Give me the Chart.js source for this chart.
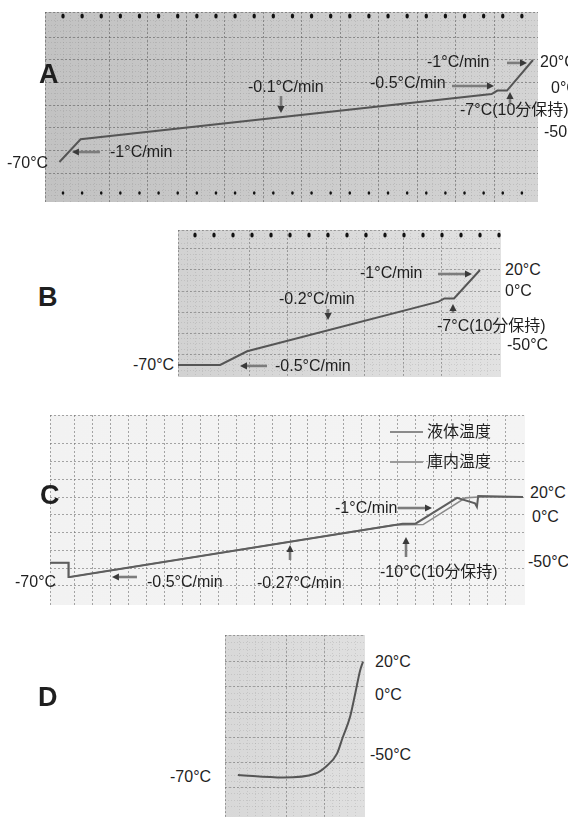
<!DOCTYPE html>
<html><head><meta charset="utf-8">
<script src="https://cdn.jsdelivr.net/npm/chart.js@4.4.0/dist/chart.umd.min.js"></script>
<style>
html,body{margin:0;padding:0;background:#fff;}
#page{position:relative;width:568px;height:820px;overflow:hidden;font-family:"Liberation Sans","Noto Sans CJK JP",Arial,sans-serif;color:#1f1f1f;}
#page canvas{position:absolute;}
.lbl{position:absolute;white-space:nowrap;font-size:16px;line-height:16px;}
.big{font-weight:bold;}
.leg{position:absolute;height:2px;background:#8a8a8a;}
</style></head>
<body><div id="page"></div>
<script>
// ---------- data (time in minutes, plotted right-to-left; temperature in °C) ----------
const A_time = [0, 27, 37, 43, 470, 492];
const A_temp = [20, -7, -7, -10, -50, -70];
const B_time = [0, 27, 37, 43, 242, 270, 314];
const B_temp = [20, -7, -7, -10, -57, -70, -70];
const C_liquidTime = [0, 35, 36, 37.5, 51.5, 84, 94, 354, 355, 355, 370];
const C_liquidTemp = [20, 21, 9, 13, 19, -10, -10, -70, -70, -54, -54];
const C_chamberTime = [0, 35, 45, 78, 100, 354, 355, 355, 370];
const C_chamberTemp = [20, 20, 19, -11, -11.4, -70, -70, -54, -54];
const D_time = [0, 3, 8, 13.5, 21, 27, 38, 50, 83, 130];
const D_temp = [20, 13, -5, -24, -40, -53, -63, -69, -72, -70];
const tempTickLabels = ['20°C', '0°C', '-50°C', '-70°C'];
const legendLabels = ['液体温度', '庫内温度'];
const panelLetters = ['A', 'B', 'C', 'D'];

const page = document.getElementById('page');
function label(text, x, cy, cls, size) {
  const d = document.createElement('div');
  d.className = 'lbl' + (cls ? ' ' + cls : '');
  const s = size || 16;
  d.style.fontSize = s + 'px';
  d.style.lineHeight = s + 'px';
  d.style.left = x + 'px';
  d.style.top = (cy - s * 0.49) + 'px';
  d.textContent = text;
  page.appendChild(d);
}

function drawArrow(ctx, x1, y1, x2, y2) {
  const ang = Math.atan2(y2 - y1, x2 - x1), hl = 7, hw = 3.6;
  const bx = x2 - Math.cos(ang) * hl, by = y2 - Math.sin(ang) * hl;
  ctx.save();
  ctx.strokeStyle = '#7c7c7c'; ctx.lineWidth = 2.6;
  ctx.beginPath(); ctx.moveTo(x1, y1); ctx.lineTo(bx, by); ctx.stroke();
  ctx.fillStyle = '#3a3a3a';
  ctx.beginPath(); ctx.moveTo(x2, y2);
  ctx.lineTo(bx + Math.sin(ang) * hw, by - Math.cos(ang) * hw);
  ctx.lineTo(bx - Math.sin(ang) * hw, by + Math.cos(ang) * hw);
  ctx.closePath(); ctx.fill();
  ctx.restore();
}

const recorderPlugin = {
  id: 'recorder',
  beforeDraw(chart, args, opts) {
    const a = chart.chartArea, ctx = chart.ctx;
    ctx.save();
    const g = ctx.createLinearGradient(a.left, 0, a.right, 0);
    g.addColorStop(0, opts.bg[0]); g.addColorStop(1, opts.bg[1]);
    ctx.fillStyle = g;
    ctx.fillRect(a.left, a.top, a.right - a.left, a.bottom - a.top);
    ctx.restore();
  },
  afterDatasetsDraw(chart, args, opts) {
    const ctx = chart.ctx, a = chart.chartArea;
    (opts.dots || []).forEach(r => {
      ctx.save(); ctx.fillStyle = '#111';
      for (let i = 0; i < r.n; i++) {
        ctx.beginPath();
        ctx.ellipse(a.left + r.x0 + i * r.step, a.top + r.y, r.rx, r.ry, 0, 0, Math.PI * 2);
        ctx.fill();
      }
      ctx.restore();
    });
    const xs = chart.scales.x, ys = chart.scales.y;
    (opts.arrows || []).forEach(ar => {
      const tx = xs.getPixelForValue(ar.t), ty = ys.getPixelForValue(ar.T);
      drawArrow(ctx, tx + ar.dx, ty + ar.dy, tx, ty);
    });
  }
};

function pts(xs, ys) { return xs.map((v, i) => ({x: v, y: ys[i]})); }

function makeChart(p) {
  const c = document.createElement('canvas');
  c.width = p.w; c.height = p.h;
  c.style.left = p.left + 'px'; c.style.top = p.top + 'px';
  c.style.width = p.w + 'px'; c.style.height = p.h + 'px';
  page.appendChild(c);
  const axis = (min, max, step, color, dash, rev) => ({
    type: 'linear', min, max, reverse: !!rev, display: true,
    ticks: {display: false, stepSize: step},
    grid: {color, lineWidth: 1, drawTicks: false},
    border: {display: false, dash}
  });
  const scales = {
    xm: axis(p.x[0], p.x[1], p.xStep[1], p.minor, [1, 2], true),
    ym: axis(p.y[0], p.y[1], p.yStep[1], p.minor, [1, 2], false),
    x: axis(p.x[0], p.x[1], p.xStep[0], p.major, [2, 2], true),
    y: axis(p.y[0], p.y[1], p.yStep[0], p.major, [2, 2], false)
  };
  new Chart(c, {
    type: 'line',
    data: {datasets: p.datasets.map(d => Object.assign({
      xAxisID: 'x', yAxisID: 'y', pointRadius: 0, borderColor: '#555',
      borderWidth: 2, tension: 0, fill: false
    }, d))},
    options: {
      responsive: false, animation: false, devicePixelRatio: 1,
      layout: {padding: 0}, events: [],
      plugins: {legend: {display: false}, tooltip: {enabled: false},
        recorder: {bg: p.bg, dots: p.dots, arrows: p.arrows}},
      scales
    },
    plugins: [recorderPlugin]
  });
}

// ---------- Panel A ----------
makeChart({
  left: 45, top: 12, w: 493, h: 190, x: [-5.2, 507], y: [-105.3, 62.35],
  xStep: [40, 8], yStep: [20, 5], bg: ['#c2c2c2', '#d4d4d4'],
  major: 'rgba(90,90,90,0.55)', minor: 'rgba(120,120,120,0.22)',
  datasets: [{data: pts(A_time, A_temp)}],
  dots: [{y: 4, x0: 18, step: 19.12, n: 25, rx: 1.7, ry: 2.6},
         {y: 181, x0: 18, step: 19.12, n: 25, rx: 1.3, ry: 1.8}],
  arrows: [{t: 479, T: -61.2, dx: 28, dy: 0}, {t: 261.8, T: -26.8, dx: 0, dy: -17},
           {t: 40.5, T: -2.9, dx: -42, dy: 0}, {t: 23.9, T: -8.2, dx: 0, dy: 11},
           {t: 6.2, T: 17.4, dx: -20, dy: 0}]
});
label(panelLetters[0], 39, 74, 'big', 27);
label(tempTickLabels[3], 7, 163);
label('-1°C/min', 110, 152);
label('-0.1°C/min', 248, 87);
label('-0.5°C/min', 370, 83);
label('-1°C/min', 427, 62);
label(tempTickLabels[0], 540, 62);
label(tempTickLabels[1], 551, 88);
label('-7°C(10分保持)', 460, 110);
label(tempTickLabels[2], 544, 132);

// ---------- Panel B ----------
makeChart({
  left: 178, top: 230, w: 323, h: 147, x: [-21.8, 313.8], y: [-81.4, 57.9],
  xStep: [40, 8], yStep: [20, 5], bg: ['#d2d2d2', '#e2e2e2'],
  major: 'rgba(100,100,100,0.5)', minor: 'rgba(120,120,120,0.2)',
  datasets: [{data: pts(B_time, B_temp)}],
  dots: [{y: 5, x0: 17, step: 19, n: 17, rx: 1.7, ry: 2.6}],
  arrows: [{t: 8.3, T: 16.2, dx: -34, dy: 0}, {t: 157.9, T: -27.4, dx: 0, dy: -11},
           {t: 28.1, T: -12.2, dx: 0, dy: 9}, {t: 249.4, T: -70.9, dx: 27, dy: 0}]
});
label(panelLetters[1], 38, 297, 'big', 27);
label(tempTickLabels[3], 133, 365);
label('-0.5°C/min', 275, 366);
label('-0.2°C/min', 279, 299);
label('-1°C/min', 360, 273);
label(tempTickLabels[0], 505, 270);
label(tempTickLabels[1], 505, 291);
label('-7°C(10分保持)', 437, 326);
label(tempTickLabels[2], 507, 345);

// ---------- Panel C ----------
makeChart({
  left: 50, top: 415, w: 475, h: 190, x: [-1.56, 369.5], y: [-101.5, 112.25],
  xStep: [14, 14], yStep: [20, 20], bg: ['#f2f2f2', '#f4f4f4'],
  major: 'rgba(110,110,110,0.6)', minor: 'rgba(110,110,110,0.0)',
  datasets: [{data: pts(C_liquidTime, C_liquidTemp), borderColor: '#5e5e5e'},
             {data: pts(C_chamberTime, C_chamberTemp), borderColor: '#8a8a8a', borderWidth: 1.6}],
  arrows: [{t: 71.1, T: 7.6, dx: -34, dy: 0}, {t: 91.4, T: -25, dx: 0, dy: 20},
           {t: 182, T: -34, dx: 0, dy: 15}, {t: 321.1, T: -70, dx: 25, dy: 0}]
});
label(panelLetters[2], 40, 495, 'big', 27);
label(tempTickLabels[3], 15, 582);
label('-0.5°C/min', 147, 582);
label('-0.27°C/min', 257, 583);
label('-10°C(10分保持)', 380, 572);
label('-1°C/min', 335, 508);
label(tempTickLabels[0], 530, 493);
label(tempTickLabels[1], 532, 517);
label(tempTickLabels[2], 528, 562);
[432, 462].forEach((cy, i) => {
  const l = document.createElement('div');
  l.className = 'leg'; l.style.left = '390px'; l.style.top = (cy - 1) + 'px'; l.style.width = '33px';
  if (i === 1) l.style.background = '#9a9a9a';
  page.appendChild(l);
  label(legendLabels[i], 427, cy);
});

// ---------- Panel D ----------
makeChart({
  left: 225, top: 635, w: 140, h: 182, x: [-2.08, 143.4], y: [-103.35, 41.2],
  xStep: [40, 8], yStep: [20, 5], bg: ['#d8d8d8', '#e0e0e0'],
  major: 'rgba(100,100,100,0.5)', minor: 'rgba(120,120,120,0.2)',
  datasets: [{data: pts(D_time, D_temp), tension: 0.4, cubicInterpolationMode: 'monotone'}]
});
label(panelLetters[3], 38, 697, 'big', 27);
label(tempTickLabels[3], 170, 777);
label(tempTickLabels[0], 375, 662);
label(tempTickLabels[1], 375, 695);
label(tempTickLabels[2], 370, 755);
</script>
</body></html>
